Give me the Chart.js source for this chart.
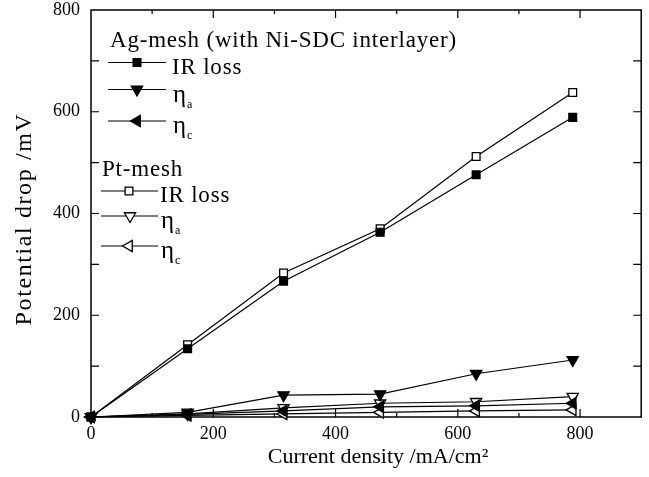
<!DOCTYPE html>
<html>
<head>
<meta charset="utf-8">
<script src="https://cdn.jsdelivr.net/npm/chart.js@4.4.1/dist/chart.umd.min.js"></script>
<style>
  body { margin: 0; background: #fff; }
</style>
</head>
<body>
<canvas id="myChart" width="649" height="477"></canvas>
<script>
const serif = "'Liberation Serif', 'Times New Roman', serif";

// current density (mA/cm2)
const currents = [0, 158, 315, 473, 630, 788];

// potential drop (mV)
const agIR = [0, 134, 267, 363, 476, 589];
const agEtaA = [0, 9, 43, 45, 85, 112];
const agEtaC = [0, 5, 12, 20, 22, 27];
const ptIR = [0, 142, 283, 370, 512, 638];
const ptEtaA = [0, 6, 18, 27, 30, 40];
const ptEtaC = [0, 3, 6, 9, 12, 14];

const xTicks = [0, 200, 400, 600, 800];
const yTicks = [0, 200, 400, 600, 800];

const xTitle = "Current density /mA/cm²";
const yTitle = "Potential drop /mV";

const toPoints = (arr) => currents.map((x, i) => ({ x: x, y: arr[i] }));

function series(label, arr, style, rotation, filled, radius) {
  return {
    label: label,
    data: toPoints(arr),
    borderColor: "#000",
    borderWidth: 1.2,
    pointStyle: style,
    rotation: rotation,
    pointRadius: radius,
    pointHoverRadius: radius,
    pointBorderColor: "#000",
    pointBorderWidth: 1.3,
    pointBackgroundColor: filled ? "#000" : "#fff",
    clip: false,
    tension: 0,
  };
}

// draw one marker the same way chart.js does it
function marker(ctx, style, rotation, filled, radius, x, y) {
  ctx.beginPath();
  if (style === "rect") {
    const s = radius * Math.SQRT1_2;
    ctx.rect(x - s, y - s, 2 * s, 2 * s);
  } else {
    let rad = (rotation * Math.PI) / 180;
    for (let k = 0; k < 3; k++) {
      const px = x + Math.sin(rad) * radius;
      const py = y - Math.cos(rad) * radius;
      if (k === 0) ctx.moveTo(px, py);
      else ctx.lineTo(px, py);
      rad += (2 * Math.PI) / 3;
    }
    ctx.closePath();
  }
  ctx.fillStyle = filled ? "#000" : "#fff";
  ctx.fill();
  ctx.lineWidth = 1.3;
  ctx.strokeStyle = "#000";
  ctx.stroke();
}

const frameTicks = {
  id: "frameTicks",
  beforeDatasetsDraw(chart) {
    const { ctx, chartArea: a, scales } = chart;
    ctx.save();
    ctx.strokeStyle = "#000";
    ctx.lineWidth = 1.5;
    ctx.strokeRect(a.left, a.top, a.right - a.left, a.bottom - a.top);
    ctx.lineWidth = 1.2;
    ctx.beginPath();
    for (let v = 100; v < 900; v += 100) {
      const px = scales.x.getPixelForValue(v);
      const len = v % 200 === 0 ? 8 : 4;
      ctx.moveTo(px, a.bottom);
      ctx.lineTo(px, a.bottom - len);
      ctx.moveTo(px, a.top);
      ctx.lineTo(px, a.top + len);
    }
    for (let v = 100; v < 800; v += 100) {
      const py = scales.y.getPixelForValue(v);
      ctx.moveTo(a.left, py);
      ctx.lineTo(a.left + 8, py);
      ctx.moveTo(a.right, py);
      ctx.lineTo(a.right - 8, py);
    }
    ctx.stroke();

    // axis titles
    ctx.fillStyle = "#000";
    ctx.textAlign = "center";
    ctx.textBaseline = "alphabetic";
    ctx.font = "22px " + serif;
    ctx.fillText(xTitle, 378, 463);
    ctx.save();
    ctx.translate(31, 219);
    ctx.rotate(-Math.PI / 2);
    ctx.font = "24px " + serif;
    ctx.letterSpacing = "1.6px";
    ctx.fillText(yTitle, 0, 0);
    ctx.restore();
    ctx.restore();
  },
};

const insideLegend = {
  id: "insideLegend",
  afterDraw(chart) {
    const ctx = chart.ctx;
    const ds = chart.data.datasets;
    ctx.save();
    ctx.fillStyle = "#000";
    ctx.textBaseline = "alphabetic";
    ctx.letterSpacing = "0.8px";
    ctx.font = "23px " + serif;
    ctx.fillText("Ag-mesh (with Ni-SDC interlayer)", 110, 47);
    ctx.fillText("Pt-mesh", 102, 176);

    const rows = [
      { d: ds[0], y: 62.5, x0: 108, x1: 166, mx: 137, tx: 172 },
      { d: ds[1], y: 89.5, x0: 108, x1: 166, mx: 137, tx: 173 },
      { d: ds[2], y: 121, x0: 108, x1: 166, mx: 137, tx: 173 },
      { d: ds[3], y: 191, x0: 101, x1: 158, mx: 129, tx: 160 },
      { d: ds[4], y: 216, x0: 101, x1: 158, mx: 130, tx: 161 },
      { d: ds[5], y: 246, x0: 101, x1: 158, mx: 129, tx: 161 },
    ];
    rows.forEach((r) => {
      ctx.beginPath();
      ctx.moveTo(r.x0, r.y);
      ctx.lineTo(r.x1, r.y);
      ctx.lineWidth = 1.2;
      ctx.strokeStyle = "#000";
      ctx.stroke();
      const filled = r.d.pointBackgroundColor === "#000";
      marker(ctx, r.d.pointStyle, r.d.rotation, filled, r.d.pointRadius, r.mx, r.y);
      ctx.fillStyle = "#000";
      const parts = r.d.label.split("_");
      if (parts.length === 1) {
        ctx.font = "23px " + serif;
        ctx.fillText(parts[0], r.tx, r.y + 11);
      } else {
        ctx.letterSpacing = "0px";
        ctx.font = "25px " + serif;
        ctx.fillText(parts[0], r.tx, r.y + 12);
        const w = ctx.measureText(parts[0]).width;
        ctx.font = "12px " + serif;
        ctx.fillText(parts[1], r.tx + w + 1, r.y + 18);
        ctx.letterSpacing = "0.8px";
      }
    });
    ctx.restore();
  },
};

const data = {
  datasets: [
    series("IR loss", agIR, "rect", 0, true, 5.5),
    series("η_a", agEtaA, "triangle", 180, true, 6.5),
    series("η_c", agEtaC, "triangle", 270, true, 6.5),
    series("IR loss", ptIR, "rect", 0, false, 5.5),
    series("η_a", ptEtaA, "triangle", 180, false, 6.5),
    series("η_c", ptEtaC, "triangle", 270, false, 6.5),
  ],
};

const config = {
  type: "line",
  data: data,
  plugins: [frameTicks, insideLegend],
  options: {
    responsive: false,
    animation: false,
    layout: { padding: { top: 10, right: 2, left: 0, bottom: 0 } },
    plugins: {
      legend: { display: false },
      tooltip: { enabled: false },
    },
    scales: {
      x: {
        type: "linear",
        min: 0,
        max: 900,
        afterFit: (scale) => {
          scale.height = 60;
          scale.paddingLeft = 0;
          scale.paddingRight = 0;
        },
        afterBuildTicks: (scale) => {
          scale.ticks = xTicks.map((v) => ({ value: v }));
        },
        grid: { display: false, drawTicks: false },
        border: { display: false },
        ticks: {
          color: "#000",
          padding: 6,
          font: { family: serif, size: 18 },
        },
      },
      y: {
        type: "linear",
        min: 0,
        max: 800,
        afterFit: (scale) => {
          scale.width = 91;
          scale.paddingTop = 0;
          scale.paddingBottom = 0;
        },
        afterBuildTicks: (scale) => {
          scale.ticks = yTicks.map((v) => ({ value: v }));
        },
        grid: { display: false, drawTicks: false },
        border: { display: false },
        ticks: {
          color: "#000",
          padding: 11,
          font: { family: serif, size: 18 },
        },
      },
    },
  },
};

const myChart = new Chart(document.getElementById("myChart"), config);
</script>
</body>
</html>
